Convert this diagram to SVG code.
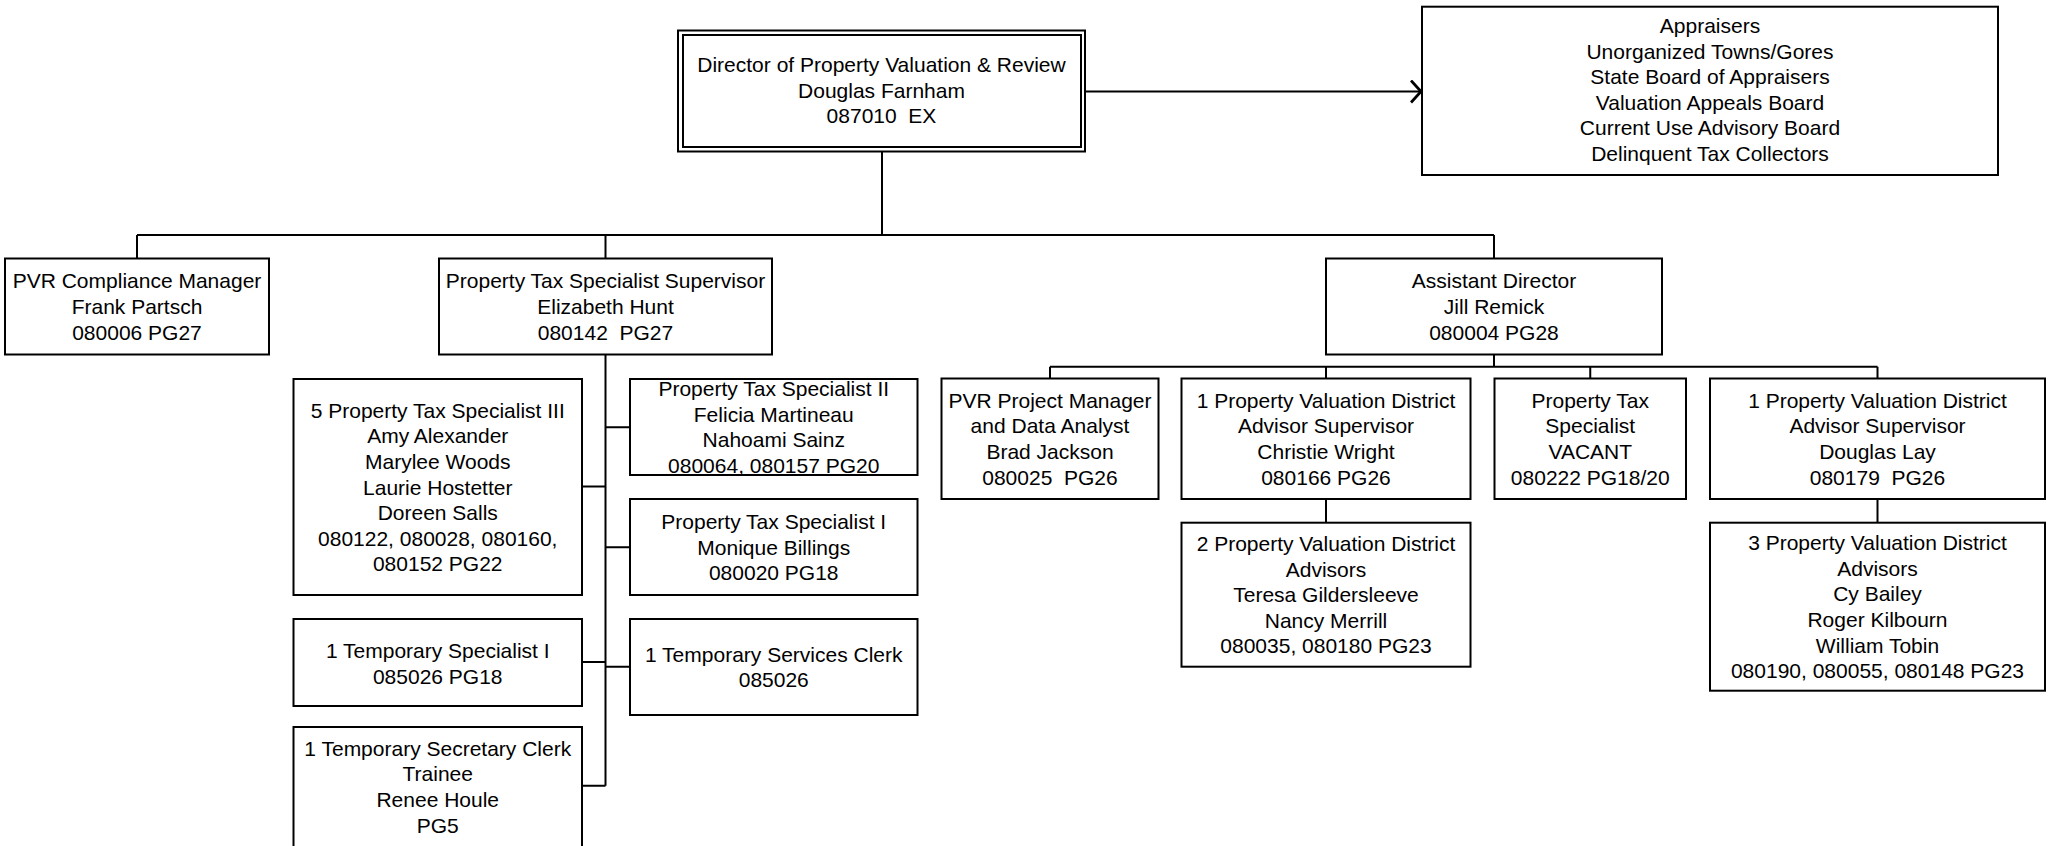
<svg xmlns="http://www.w3.org/2000/svg" width="2050" height="846" viewBox="0 0 2050 846">
<style>
.bg{fill:#fff}
.box{fill:#fff;stroke:#000;stroke-width:2}
.line{fill:none;stroke:#000;stroke-width:2}
.t{font-family:"Liberation Sans",Arial,sans-serif;font-size:21px;text-anchor:middle;fill:#000;white-space:pre}
</style>
<defs>
<marker id="arr" viewBox="0 0 12 24" markerWidth="12" markerHeight="24" refX="11" refY="12" orient="auto" markerUnits="userSpaceOnUse">
<path d="M1,1 L11,12 L1,23" fill="none" stroke="#000" stroke-width="2.8"/>
</marker>
</defs>
<rect class="bg" x="0" y="0" width="2050" height="846"/>

<g id="connectors">
<path class="line" d="M1085,91.5 H1421" stroke-width="2.7" marker-end="url(#arr)"/>
<path class="line" d="M882,151.5 V235 M137,235 H1494 M137,235 V258.5 M605.5,235 V258.5 M1494,235 V258.5"/>
<path class="line" d="M605.5,354.5 V785.7 M582,486.5 H605.5 M582,662 H605.5 M582,785.7 H605.5 M605.5,427.3 H630 M605.5,547.3 H630 M605.5,666.7 H630"/>
<path class="line" d="M1494,354.5 V366.7 M1050,366.7 H1877.5 M1050,366.7 V378.5 M1326,366.7 V378.5 M1590.25,366.7 V378.5 M1877.5,366.7 V378.5"/>
<path class="line" d="M1326,499 V522.7 M1877.5,499 V522.7"/>
</g>

<g id="director">
<rect class="box" x="678" y="30.5" width="407" height="121" stroke-width="2.5"/>
<rect class="box" x="683" y="35" width="398" height="112"/>
<text class="t"><tspan x="881.5" y="72">Director of Property Valuation &amp; Review</tspan><tspan x="881.5" y="97.5">Douglas Farnham</tspan><tspan x="881.5" y="123">087010  EX</tspan></text>
</g>

<g id="appraisers">
<rect class="box" x="1422" y="6.7" width="576" height="168.3"/>
<text class="t"><tspan x="1710" y="33">Appraisers</tspan><tspan x="1710" y="58.6">Unorganized Towns/Gores</tspan><tspan x="1710" y="84.2">State Board of Appraisers</tspan><tspan x="1710" y="109.8">Valuation Appeals Board</tspan><tspan x="1710" y="135.4">Current Use Advisory Board</tspan><tspan x="1710" y="161">Delinquent Tax Collectors</tspan></text>
</g>

<g id="pvr-compliance">
<rect class="box" x="5" y="258.5" width="264" height="96"/>
<text class="t"><tspan x="137" y="288.4">PVR Compliance Manager</tspan><tspan x="137" y="314">Frank Partsch</tspan><tspan x="137" y="339.6">080006 PG27</tspan></text>
</g>

<g id="pts-supervisor">
<rect class="box" x="439" y="258.5" width="333" height="96"/>
<text class="t"><tspan x="605.5" y="288.4">Property Tax Specialist Supervisor</tspan><tspan x="605.5" y="314">Elizabeth Hunt</tspan><tspan x="605.5" y="339.6">080142  PG27</tspan></text>
</g>

<g id="assistant-director">
<rect class="box" x="1326" y="258.5" width="336" height="96"/>
<text class="t"><tspan x="1494" y="288.4">Assistant Director</tspan><tspan x="1494" y="314">Jill Remick</tspan><tspan x="1494" y="339.6">080004 PG28</tspan></text>
</g>

<g id="pts3">
<rect class="box" x="293.5" y="379" width="288.5" height="216"/>
<text class="t"><tspan x="437.75" y="417.7">5 Property Tax Specialist III</tspan><tspan x="437.75" y="443.3">Amy Alexander</tspan><tspan x="437.75" y="468.9">Marylee Woods</tspan><tspan x="437.75" y="494.5">Laurie Hostetter</tspan><tspan x="437.75" y="520.1">Doreen Salls</tspan><tspan x="437.75" y="545.7">080122, 080028, 080160,</tspan><tspan x="437.75" y="571.3">080152 PG22</tspan></text>
</g>

<g id="pts2">
<rect class="box" x="630" y="379" width="287.5" height="96"/>
<text class="t"><tspan x="773.75" y="396.1">Property Tax Specialist II</tspan><tspan x="773.75" y="421.7">Felicia Martineau</tspan><tspan x="773.75" y="447.3">Nahoami Sainz</tspan><tspan x="773.75" y="472.9">080064, 080157 PG20</tspan></text>
</g>

<g id="pts1">
<rect class="box" x="630" y="499" width="287.5" height="96"/>
<text class="t"><tspan x="773.75" y="529.1">Property Tax Specialist I</tspan><tspan x="773.75" y="554.7">Monique Billings</tspan><tspan x="773.75" y="580.3">080020 PG18</tspan></text>
</g>

<g id="temp-specialist">
<rect class="box" x="293.5" y="619" width="288.5" height="87"/>
<text class="t"><tspan x="437.75" y="658">1 Temporary Specialist I</tspan><tspan x="437.75" y="683.6">085026 PG18</tspan></text>
</g>

<g id="temp-services">
<rect class="box" x="630" y="619" width="287.5" height="96"/>
<text class="t"><tspan x="773.75" y="661.7">1 Temporary Services Clerk</tspan><tspan x="773.75" y="687.3">085026</tspan></text>
</g>

<g id="temp-secretary">
<rect class="box" x="293.5" y="727" width="288.5" height="122"/>
<text class="t"><tspan x="437.75" y="755.8">1 Temporary Secretary Clerk</tspan><tspan x="437.75" y="781.4">Trainee</tspan><tspan x="437.75" y="807">Renee Houle</tspan><tspan x="437.75" y="832.6">PG5</tspan></text>
</g>

<g id="pvr-project">
<rect class="box" x="941.5" y="378.5" width="217" height="120.5"/>
<text class="t"><tspan x="1050" y="407.85">PVR Project Manager</tspan><tspan x="1050" y="433.45">and Data Analyst</tspan><tspan x="1050" y="459.05">Brad Jackson</tspan><tspan x="1050" y="484.65">080025  PG26</tspan></text>
</g>

<g id="pvd-supervisor-wright">
<rect class="box" x="1181.5" y="378.5" width="289" height="120.5"/>
<text class="t"><tspan x="1326" y="407.85">1 Property Valuation District</tspan><tspan x="1326" y="433.45">Advisor Supervisor</tspan><tspan x="1326" y="459.05">Christie Wright</tspan><tspan x="1326" y="484.65">080166 PG26</tspan></text>
</g>

<g id="pts-vacant">
<rect class="box" x="1494.5" y="378.5" width="191.5" height="120.5"/>
<text class="t"><tspan x="1590.25" y="407.85">Property Tax</tspan><tspan x="1590.25" y="433.45">Specialist</tspan><tspan x="1590.25" y="459.05">VACANT</tspan><tspan x="1590.25" y="484.65">080222 PG18/20</tspan></text>
</g>

<g id="pvd-supervisor-lay">
<rect class="box" x="1710" y="378.5" width="335" height="120.5"/>
<text class="t"><tspan x="1877.5" y="407.85">1 Property Valuation District</tspan><tspan x="1877.5" y="433.45">Advisor Supervisor</tspan><tspan x="1877.5" y="459.05">Douglas Lay</tspan><tspan x="1877.5" y="484.65">080179  PG26</tspan></text>
</g>

<g id="pvd-advisors-2">
<rect class="box" x="1181.5" y="522.7" width="289" height="144"/>
<text class="t"><tspan x="1326" y="551">2 Property Valuation District</tspan><tspan x="1326" y="576.6">Advisors</tspan><tspan x="1326" y="602.2">Teresa Gildersleeve</tspan><tspan x="1326" y="627.8">Nancy Merrill</tspan><tspan x="1326" y="653.4">080035, 080180 PG23</tspan></text>
</g>

<g id="pvd-advisors-3">
<rect class="box" x="1710" y="522.7" width="335" height="168"/>
<text class="t"><tspan x="1877.5" y="550.2">3 Property Valuation District</tspan><tspan x="1877.5" y="575.8">Advisors</tspan><tspan x="1877.5" y="601.4">Cy Bailey</tspan><tspan x="1877.5" y="627">Roger Kilbourn</tspan><tspan x="1877.5" y="652.6">William Tobin</tspan><tspan x="1877.5" y="678.2">080190, 080055, 080148 PG23</tspan></text>
</g>
</svg>
